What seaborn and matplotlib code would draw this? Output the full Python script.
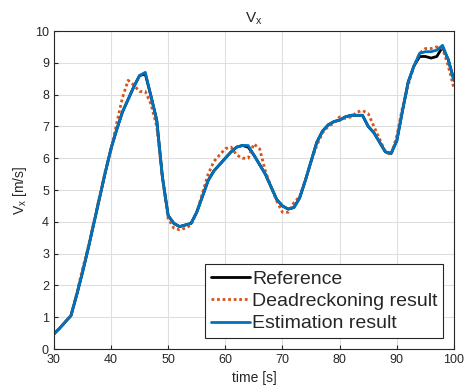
import numpy as np
import pandas as pd
import seaborn as sns
from matplotlib import pyplot as plt

# time axis [s]
time = list(range(30, 101))

reference = [0.47, 0.65, 0.85, 1.05, 1.7, 2.4, 3.15, 3.95, 4.75, 5.55,
             6.3, 6.9, 7.45, 7.85, 8.25, 8.6, 8.65, 7.95, 7.2, 5.4,
             4.2, 3.95, 3.85, 3.9, 3.95, 4.3, 4.8, 5.3, 5.6, 5.8,
             6.0, 6.2, 6.35, 6.4, 6.35, 6.1, 5.8, 5.5, 5.1, 4.7,
             4.5, 4.4, 4.45, 4.75, 5.3, 5.9, 6.5, 6.85, 7.05, 7.15,
             7.2, 7.3, 7.35, 7.35, 7.35, 7.0, 6.8, 6.5, 6.2, 6.15,
             6.55, 7.5, 8.4, 8.9, 9.2, 9.2, 9.15, 9.2, 9.5, 9.1,
             8.45]

deadreckoning = [0.47, 0.65, 0.85, 1.05, 1.75, 2.5, 3.2, 4.0, 4.8, 5.6,
                 6.25, 7.1, 7.9, 8.45, 8.3, 8.1, 8.1, 7.7, 7.0, 5.4,
                 4.1, 3.8, 3.75, 3.8, 3.9, 4.3, 4.9, 5.5, 5.9, 6.1,
                 6.3, 6.35, 6.1, 6.0, 6.0, 6.45, 6.3, 5.6, 5.1, 4.65,
                 4.3, 4.3, 4.6, 4.8, 5.3, 5.9, 6.4, 6.8, 7.0, 7.1,
                 7.3, 7.25, 7.3, 7.45, 7.5, 7.4, 7.0, 6.6, 6.2, 6.1,
                 6.7, 7.6, 8.3, 8.9, 9.3, 9.45, 9.45, 9.5, 9.45, 8.9,
                 8.2]

estimation = [0.47, 0.65, 0.85, 1.05, 1.7, 2.4, 3.15, 3.95, 4.75, 5.55,
              6.3, 6.9, 7.45, 7.85, 8.25, 8.6, 8.7, 7.95, 7.2, 5.4,
              4.2, 3.95, 3.85, 3.9, 3.95, 4.3, 4.8, 5.3, 5.6, 5.8,
              6.0, 6.2, 6.35, 6.4, 6.4, 6.1, 5.8, 5.5, 5.1, 4.7,
              4.5, 4.4, 4.45, 4.75, 5.3, 5.9, 6.5, 6.85, 7.05, 7.15,
              7.2, 7.3, 7.35, 7.35, 7.35, 7.0, 6.8, 6.5, 6.2, 6.15,
              6.55, 7.5, 8.4, 8.9, 9.3, 9.35, 9.35, 9.4, 9.55, 9.1,
              8.45]

x_ticks = [30, 40, 50, 60, 70, 80, 90, 100]
y_ticks = list(range(0, 11))

df = pd.DataFrame({"time": time, "Reference": reference,
                   "Deadreckoning result": deadreckoning,
                   "Estimation result": estimation})

sns.set_style("whitegrid")
plt.rcParams["font.family"] = ["Liberation Sans", "DejaVu Sans"]

fig = plt.figure(figsize=(4.68, 3.88), dpi=100)
ax = fig.add_axes([0.115, 0.1005, 0.855, 0.8195])

sns.lineplot(data=df, x="time", y="Reference", ax=ax, color="black",
             linewidth=2, label="Reference")
sns.lineplot(data=df, x="time", y="Deadreckoning result", ax=ax, color="#D95319",
             linewidth=2, linestyle=(0, (1, 1)), label="Deadreckoning result")
sns.lineplot(data=df, x="time", y="Estimation result", ax=ax, color="#0072BD",
             linewidth=2, label="Estimation result")

ax.set_xlim(30, 100)
ax.set_ylim(0, 10)
ax.set_xticks(x_ticks)
ax.set_yticks(y_ticks)
ax.tick_params(labelsize=9, colors="#262626", direction="in", length=3,
               left=True, bottom=True)
ax.grid(True, color="#dfdfdf", linewidth=0.8)
for side in ["left", "bottom", "top", "right"]:
    ax.spines[side].set_visible(True)
    ax.spines[side].set_color("#262626")
    ax.spines[side].set_linewidth(0.8)

ax.set_title("$\\mathregular{V_x}$", fontsize=11, color="#262626")
ax.set_xlabel("time [s]", fontsize=10, color="#262626")
ax.set_ylabel("$\\mathregular{V_x}$ [m/s]", fontsize=10, color="#262626")

leg = ax.legend(loc="lower right", fontsize=14, frameon=True, fancybox=False,
                edgecolor="#262626", framealpha=1, handlelength=2.0,
                handletextpad=0.1, borderpad=0.3, labelspacing=0.25,
                borderaxespad=0.55)
leg.get_frame().set_linewidth(0.8)

plt.savefig("out.png", dpi=100)
